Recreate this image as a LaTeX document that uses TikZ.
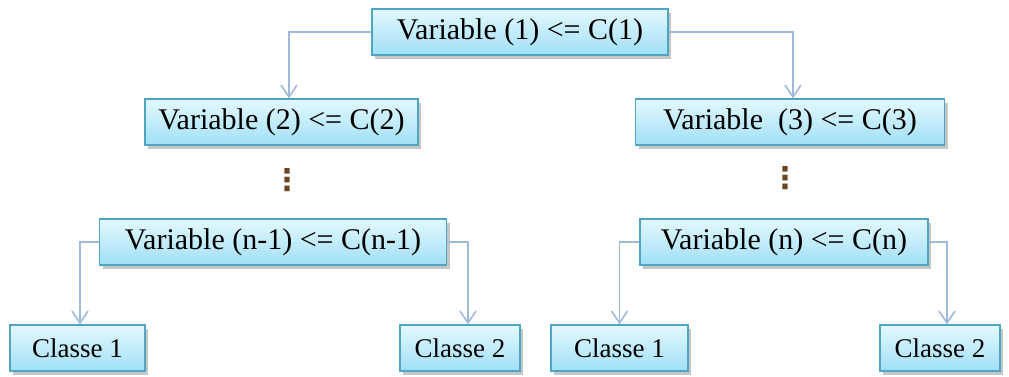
\documentclass[tikz,border=0pt]{standalone}
\usepackage{fontspec}
\setmainfont{Liberation Serif}
\newfontfamily\symfont{DejaVu Sans}
\usetikzlibrary{arrows.meta,shadows}

\definecolor{boxline}{RGB}{80,165,195}
\definecolor{boxtop}{RGB}{228,248,254}
\definecolor{boxbot}{RGB}{160,224,246}
\definecolor{linkcol}{RGB}{160,185,220}
\definecolor{dotcol}{RGB}{105,70,35}

\tikzset{
  varbox/.style={draw=boxline, line width=0.6pt, top color=boxtop, bottom color=boxbot,
    minimum height=23pt, inner sep=2pt, font=\fontsize{15}{17}\selectfont,
    drop shadow={shadow xshift=1.5pt, shadow yshift=-1.8pt, fill=black!50, opacity=0.45}},
  leafbox/.style={varbox, font=\fontsize{13.5}{16}\selectfont},
  link/.style={draw=linkcol, line width=0.8pt, -{Straight Barb[length=6pt,width=8pt]}},
  dotsym/.style={text=dotcol, font=\symfont\fontsize{15}{15}\selectfont\bfseries, inner sep=0pt},
}

\begin{document}
\begin{tikzpicture}[x=0.5pt,y=-0.5pt]
  \useasboundingbox (0,0) rectangle (1009,376);
  % splits
  \node[varbox, minimum width=148pt]   (v1)  at (520,32)   {Variable (1) <= C(1)};
  \node[varbox, minimum width=136.5pt] (v2)  at (281.5,122) {Variable (2) <= C(2)};
  \node[varbox, minimum width=154.5pt] (v3)  at (790,122)  {Variable\ \ (3) <= C(3)};
  \node[varbox, minimum width=173.5pt] (vm)  at (273,242)  {Variable (n-1) <= C(n-1)};
  \node[varbox, minimum width=144pt]   (vn)  at (784,242)  {Variable (n) <= C(n)};
  % leaves
  \node[leafbox, minimum width=67.5pt]  (c1a) at (77.5,348) {Classe 1};
  \node[leafbox, minimum width=60pt]    (c2a) at (460,348)  {Classe 2};
  \node[leafbox, minimum width=68.5pt]  (c1b) at (619.5,348) {Classe 1};
  \node[leafbox, minimum width=60pt]    (c2b) at (940,348)  {Classe 2};
  % elided levels
  \node[dotsym] (d2) at (287,180) {⋮};
  \node[dotsym] (d3) at (785,178) {⋮};

  \draw[link] (v1.west) -| ([xshift=3.75pt]v2.north);
  \draw[link] (v1.east) -| ([xshift=1.5pt]v3.north);
  \draw[link] (vm.west) -| ([xshift=1.25pt]c1a.north);
  \draw[link] (vm.east) -| ([xshift=4pt]c2a.north);
  \draw[link] (vn.west) -| (c1b.north);
  \draw[link] (vn.east) -| ([xshift=3.5pt]c2b.north);
\end{tikzpicture}
\end{document}
